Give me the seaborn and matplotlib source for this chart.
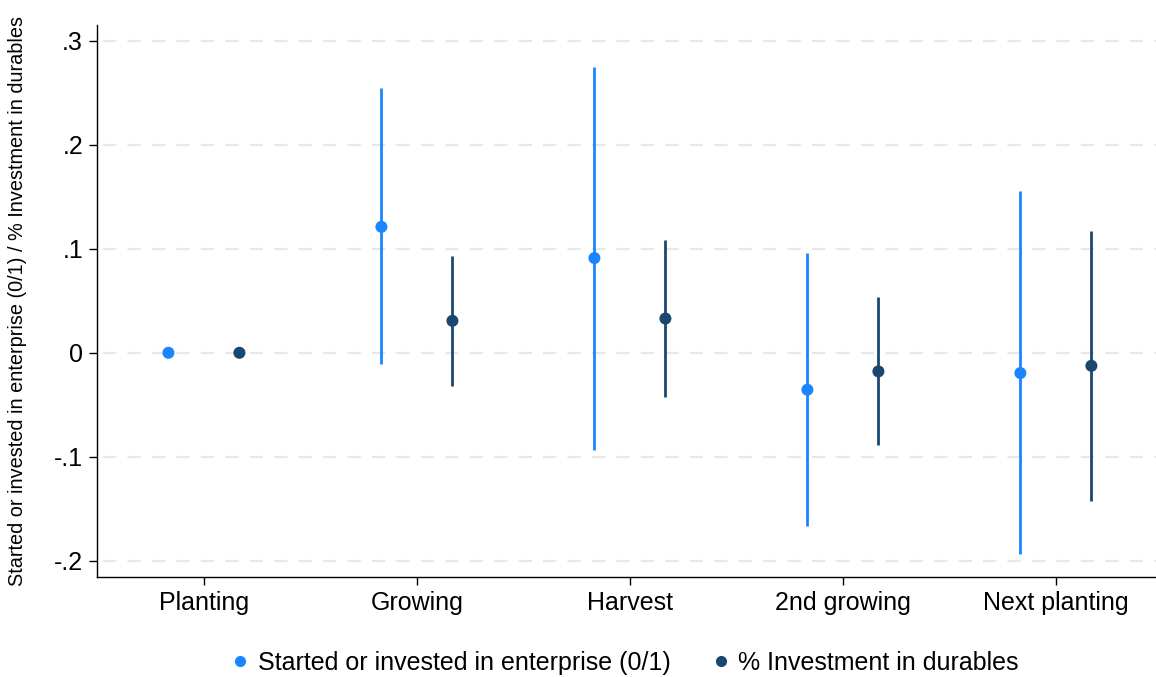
import numpy as np
import pandas as pd
import matplotlib
matplotlib.use("Agg")
import matplotlib.pyplot as plt
import seaborn as sns
from matplotlib.lines import Line2D

sns.set_style("white")
plt.rcParams["font.family"] = ["Liberation Sans", "DejaVu Sans"]
plt.rcParams["text.color"] = "black"
plt.rcParams["axes.labelcolor"] = "black"
plt.rcParams["xtick.color"] = "black"
plt.rcParams["ytick.color"] = "black"

# ========== data ==========
periods = ["Planting", "Growing", "Harvest", "2nd growing", "Next planting"]
series_names = ["Started or invested in enterprise (0/1)", "% Investment in durables"]

enterprise_est = [0.0, 0.121, 0.091, -0.0355, -0.0195]
enterprise_lo = [0.0, -0.0108, -0.093, -0.166, -0.193]
enterprise_hi = [0.0, 0.254, 0.275, 0.0957, 0.155]

durables_est = [0.0, 0.0307, 0.0329, -0.0179, -0.0125]
durables_lo = [0.0, -0.0317, -0.0429, -0.089, -0.1427]
durables_hi = [0.0, 0.0928, 0.108, 0.0535, 0.117]

y_ticks = [-0.2, -0.1, 0.0, 0.1, 0.2, 0.3]
y_ticklabels = ["-.2", "-.1", "0", ".1", ".2", ".3"]

colors = {series_names[0]: "#1a85ff", series_names[1]: "#1a476f"}
offsets = {series_names[0]: -1 / 6, series_names[1]: 1 / 6}

# ========== long table ==========
rows = []
for name, est, lo, hi in [(series_names[0], enterprise_est, enterprise_lo, enterprise_hi),
                          (series_names[1], durables_est, durables_lo, durables_hi)]:
    for i, p in enumerate(periods):
        rows.append({"series": name, "period": p, "pos": i + offsets[name],
                     "est": est[i], "lo": lo[i], "hi": hi[i]})
df = pd.DataFrame(rows)

# ========== plot ==========
fig = plt.figure(figsize=(11.56, 6.77), dpi=100)
ax = fig.add_axes([97 / 1156, 100 / 677, 1 - 97 / 1156, 552 / 677])

for y in y_ticks:
    ax.axhline(y, xmin=0.006, color="#e8e8e8", lw=1.6, ls=(0, (6, 5)), zorder=0)

for name in series_names:
    sub = df[df["series"] == name]
    sub = sub[sub["hi"] > sub["lo"]]
    ax.vlines(sub["pos"], sub["lo"], sub["hi"], color=colors[name], lw=2.0, zorder=2)

sns.scatterplot(data=df, x="pos", y="est", hue="series", palette=colors,
                s=75, edgecolor="none", zorder=3, legend=False, ax=ax)

ax.set_xlim(-0.502, 4.47)
ax.set_ylim(-0.2154, 0.3149)
ax.set_xticks(range(len(periods)))
ax.set_xticklabels(periods, fontsize=18)
ax.set_yticks(y_ticks)
ax.set_yticklabels(y_ticklabels, fontsize=18)
ax.set_xlabel("")
ax.set_ylabel("Started or invested in enterprise (0/1) / % Investment in durables", fontsize=14.3)
ax.yaxis.set_label_coords(-0.066, 0.5)

ax.tick_params(axis="both", direction="out", length=6, width=1.0, color="black",
               left=True, bottom=True, pad=4)
for side in ["top", "right"]:
    ax.spines[side].set_visible(False)
for side in ["left", "bottom"]:
    ax.spines[side].set_color("black")
    ax.spines[side].set_linewidth(1.0)

handles = [Line2D([], [], marker="o", ls="none", color=colors[n], markersize=7) for n in series_names]
ax.legend(handles, series_names, loc="center", bbox_to_anchor=(0.497, -0.155),
          ncol=2, frameon=False, fontsize=18, handletextpad=0.2, columnspacing=1.5,
          handlelength=1.0)

fig.savefig("out.png", dpi=100)
